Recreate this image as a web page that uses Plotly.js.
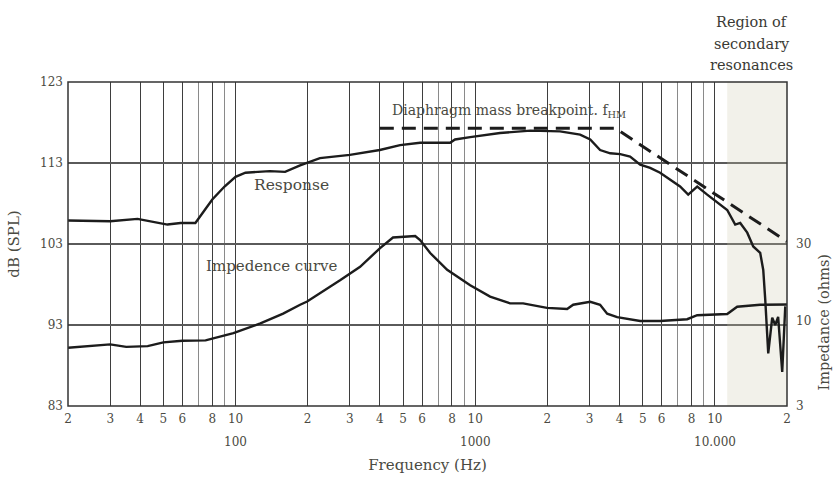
<!DOCTYPE html>
<html><head><meta charset="utf-8">
<script src="https://cdn.plot.ly/plotly-3.0.1.min.js"></script>
<style>html,body{margin:0;padding:0;background:#fff;}#chart{width:835px;height:478px;}</style>
</head><body><div id="chart"></div>
<script>
// Response curve (dB SPL)
const respFreq = [20,30,39,49,52,59,68,80,90,100,110,139,161,186,225,300,400,486,589,786,824,953,1270,1700,2260,2740,3020,3320,3660,4030,4430,4880,5370,5910,6510,7160,7740,8440,9290,10230,11260,12160,12760,13650,14460,15460,15920,16230,16700,17350,17860,18370,19100,19670];
const respDb = [105.9,105.8,106.1,105.6,105.4,105.6,105.6,108.5,110.1,111.3,111.8,112.0,111.9,112.7,113.6,114.0,114.6,115.2,115.5,115.5,115.9,116.2,116.7,117.0,116.9,116.5,115.9,114.6,114.2,114.1,113.8,112.8,112.4,111.8,110.9,110.1,109.1,110.1,109.1,108.1,107.2,105.4,105.6,104.4,102.7,101.9,99.8,96.1,89.5,93.9,93.0,94.0,87.2,95.3];
// Impedance curve (ohms)
const impFreq = [20,30,35,43,50,60,75,98,127,158,186,199,273,331,401,454,562,589,649,764,953,1154,1399,1585,1993,2419,2564,3020,3320,3554,3911,4878,5914,7664,8440,10230,11260,12390,15460,20000];
const impOhm = [6.87,7.2,6.95,7.03,7.41,7.58,7.62,8.45,9.71,11.15,12.65,13.25,17.9,21.7,28.3,32.9,33.6,31.7,26.4,20.8,16.7,14.2,12.9,12.9,12.1,11.9,12.65,13.2,12.65,11.15,10.6,10.05,10.05,10.3,10.9,11.1,11.1,12.3,12.65,12.7];
// Diaphragm mass breakpoint asymptote
const massFreq = [400,3840,20000];
const massDb = [117.3,117.3,103.3];
// Region of secondary resonances
const regionFreq = [11260,20000];
const regionDb = [83,123];
// Axis ticks
const xTickVals = [20,30,40,50,60,80,100,200,300,400,500,600,800,1000,2000,3000,4000,5000,6000,8000,10000,20000];
const xTickText = ['2','3','4','5','6','8','10','2','3','4','5','6','8','10','2','3','4','5','6','8','10','2'];
const xMinorVals = [70,90,700,900,7000,9000];
const decadeVals = [100,1000,10000];
const decadeText = ['100','1000','10.000'];
const dbTicks = [83,93,103,113,123];
const ohmTicks = [3,10,30];
const regionLines = ['Region of','secondary','resonances'];

const FONT = 'DejaVu Serif, Liberation Serif, serif';
const TXT = '#4a4a42';

const traces = [
  {x:[regionFreq[0],regionFreq[1],regionFreq[1],regionFreq[0],regionFreq[0]], y:[regionDb[0],regionDb[0],regionDb[1],regionDb[1],regionDb[0]],
   type:'scatter', mode:'lines', fill:'toself', fillcolor:'rgba(205,200,175,0.26)', line:{width:0}, hoverinfo:'skip'},
  {x: respFreq, y: respDb, type:'scatter', mode:'lines', line:{color:'#1c1c1c', width:2.4}, hoverinfo:'skip'},
  {x: impFreq, y: impOhm, yaxis:'y2', type:'scatter', mode:'lines', line:{color:'#1c1c1c', width:2.4}, hoverinfo:'skip'},
  {x: massFreq, y: massDb, type:'scatter', mode:'lines', line:{color:'#1c1c1c', width:3, dash:'14px,8px'}, hoverinfo:'skip'}
];

const annotations = [
  {text:'Diaphragm mass breakpoint. f<sub>HM</sub>', x:Math.log10(1385), y:119.4, xref:'x', yref:'y', xanchor:'center', yanchor:'middle', showarrow:false, font:{family:FONT, size:14, color:TXT}},
  {text:'Response', x:Math.log10(172), y:110.3, xref:'x', yref:'y', xanchor:'center', yanchor:'middle', showarrow:false, font:{family:FONT, size:15.5, color:TXT}},
  {text:'Impedence curve', x:Math.log10(142), y:100.3, xref:'x', yref:'y', xanchor:'center', yanchor:'middle', showarrow:false, font:{family:FONT, size:15, color:TXT}},
  {text:'Impedance (ohms)', x:1.052, y:0.259, xref:'paper', yref:'paper', xanchor:'center', yanchor:'middle', showarrow:false, textangle:-90, font:{family:FONT, size:14.5, color:TXT}}
];
const regionY = [1.185, 1.117, 1.052];
regionLines.forEach((t,i)=>annotations.push({text:t, x:0.951, y:regionY[i], xref:'paper', yref:'paper', xanchor:'center', yanchor:'middle', showarrow:false, font:{family:FONT, size:14.5, color:'#3a3a34'}}));
decadeVals.forEach((v,i)=>annotations.push({text:decadeText[i], x:Math.log10(v), y:-0.111, xref:'x', yref:'paper', xanchor:'center', yanchor:'middle', showarrow:false, font:{family:FONT, size:12, color:TXT}}));

const layout = {
  width:835, height:478,
  margin:{l:68, r:48, t:82, b:72},
  paper_bgcolor:'#ffffff', plot_bgcolor:'#ffffff',
  showlegend:false,
  font:{family:FONT, color:TXT},
  xaxis:{type:'log', range:[Math.log10(20), Math.log10(20000)], tickmode:'array', tickvals:xTickVals, ticktext:xTickText,
    showgrid:true, gridcolor:'#3e3e3e', gridwidth:1, zeroline:false, showline:false, ticks:'', ticklabelstandoff:4,
    tickfont:{family:FONT, size:12, color:TXT},
    minor:{tickmode:'array', tickvals:xMinorVals, showgrid:true, gridcolor:'#8a8a8a', gridwidth:1, ticks:''},
    title:{text:'Frequency (Hz)', font:{family:FONT, size:15, color:TXT}, standoff:34}},
  yaxis:{range:[83,123], tickmode:'array', tickvals:dbTicks, showgrid:true, gridcolor:'#5a5a5a', gridwidth:1.5, zeroline:false,
    showline:false, ticks:'', ticklabelstandoff:4, tickfont:{family:FONT, size:12, color:TXT},
    title:{text:'dB (SPL)', font:{family:FONT, size:15, color:TXT}, standoff:16}},
  yaxis2:{type:'log', overlaying:'y', side:'right', range:[Math.log10(3), Math.log10(300)], tickmode:'array', tickvals:ohmTicks,
    showgrid:false, zeroline:false, showline:false, ticks:'', ticklabelstandoff:8, tickfont:{family:FONT, size:12, color:TXT}},
  shapes:[
    {type:'rect', xref:'paper', yref:'paper', x0:0, x1:1, y0:0, y1:1, line:{color:'#333', width:1.5}, layer:'above'}
  ],
  annotations: annotations
};
Plotly.newPlot('chart', traces, layout, {staticPlot:true});
</script></body></html>
